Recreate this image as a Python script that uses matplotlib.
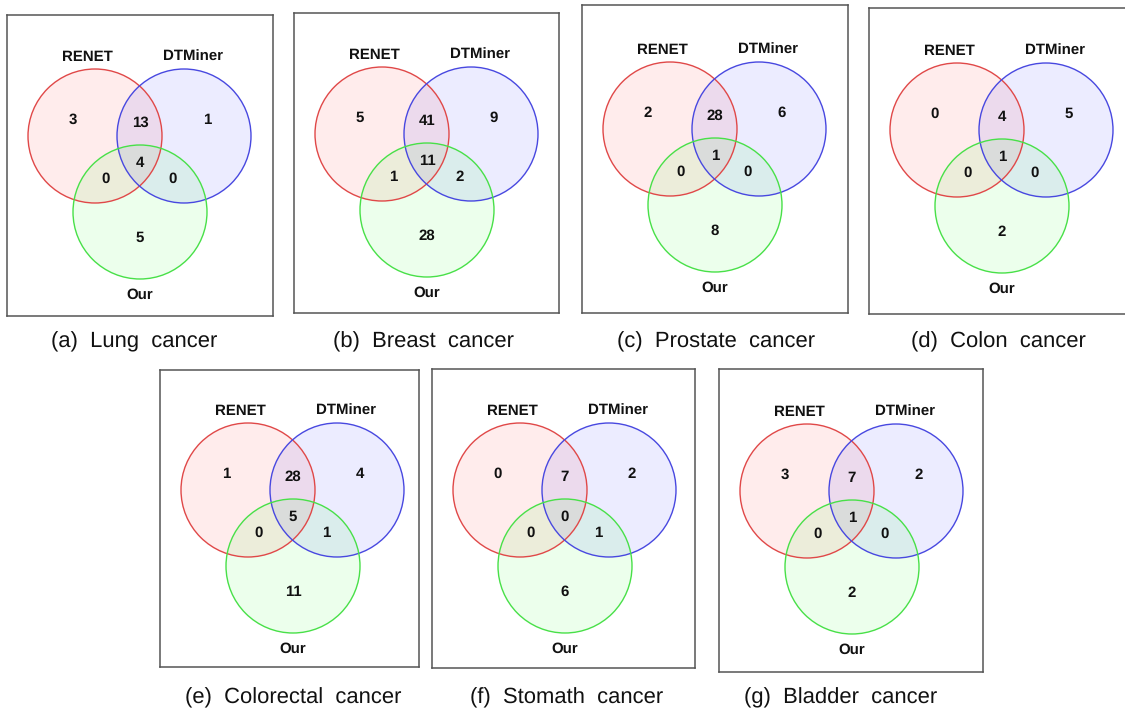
import matplotlib
matplotlib.use("Agg")
import matplotlib.pyplot as plt
from matplotlib.patches import Circle

plt.rcParams["text.hinting"] = "no_hinting"
plt.rcParams["text.hinting_factor"] = 1

# ---- data -------------------------------------------------------------
set_names = ["RENET", "DTMiner", "Our"]

captions = [
    "(a)  Lung  cancer",
    "(b)  Breast  cancer",
    "(c)  Prostate  cancer",
    "(d)  Colon  cancer",
    "(e)  Colorectal  cancer",
    "(f)  Stomath  cancer",
    "(g)  Bladder  cancer",
]

# region counts: RENET only, RENET&DTMiner, DTMiner only,
#                all three, RENET&Our, DTMiner&Our, Our only
renet_only    = [3, 5, 2, 0, 1, 0, 3]
renet_dtminer = [13, 41, 28, 4, 28, 7, 7]
dtminer_only  = [1, 9, 6, 5, 4, 2, 2]
all_three     = [4, 11, 1, 1, 5, 0, 1]
renet_our     = [0, 1, 0, 0, 0, 0, 0]
dtminer_our   = [0, 2, 0, 0, 1, 1, 0]
our_only      = [5, 28, 8, 2, 11, 6, 2]

# ---- layout (pixels) --------------------------------------------------
W, H = 1125, 712
DPI = 100

# panel frames: left, top, right, bottom
frames = [
    (7, 15, 273, 316),
    (294, 13, 559, 313),
    (582, 5, 848, 313),
    (869, 8, 1135, 314),
    (160, 370, 419, 667),
    (432, 369, 695, 668),
    (719, 369, 983, 672),
]
# vertical shift of the diagram inside each frame
shift_y = [0, 0, 3, 1, -1, 0, 1]
caption_x = [134, 423, 716, 998, 293, 567, 841]
caption_y = [342, 342, 342, 342, 698, 698, 698]

# Venn geometry relative to frame top-left
R = 67
centers = [(88, 121), (177, 121), (133, 197)]
name_pos = [(80, 42), (186, 42), (133, 280)]
region_pos = [(66, 105), (133, 108), (200, 105), (133, 148),
              (99, 164), (166, 164), (133, 223)]

edge_colors = ["#e04848", "#4848e0", "#48e048"]
fill_colors = ["#ff0000", "#0000ff", "#00ff00"]

fig = plt.figure(figsize=(W / DPI, H / DPI), dpi=DPI)
fig.patch.set_facecolor("white")

label_font = dict(family=["Liberation Sans", "DejaVu Sans"], fontweight="bold")
caption_font = ["Liberation Sans Narrow", "Liberation Sans", "DejaVu Sans"]

for i, (l, t, r, b) in enumerate(frames):
    w, h = r - l, b - t
    ax = fig.add_axes([l / W, 1 - b / H, w / W, h / H])
    ax.set_xlim(0, w)
    ax.set_ylim(h, 0)
    ax.set_xticks([])
    ax.set_yticks([])
    for sp in ax.spines.values():
        sp.set_color("#555555")
        sp.set_linewidth(1.1)
    dy = shift_y[i]

    for (cx, cy), fc in zip(centers, fill_colors):
        ax.add_patch(Circle((cx, cy + dy), R, facecolor=fc, alpha=0.075,
                            edgecolor="none", zorder=1))
    for (cx, cy), ec in zip(centers, edge_colors):
        ax.add_patch(Circle((cx, cy + dy), R, facecolor="none",
                            edgecolor=ec, linewidth=1.0, zorder=2))

    for name, (x, y) in zip(set_names, name_pos):
        ax.text(x, y + dy, name, ha="center", va="center", fontsize=10.5,
                color="#111111", **label_font)

    values = [renet_only[i], renet_dtminer[i], dtminer_only[i], all_three[i],
              renet_our[i], dtminer_our[i], our_only[i]]
    for v, (x, y) in zip(values, region_pos):
        ax.text(x, y + dy, str(v), ha="center", va="center", fontsize=10.5,
                color="#111111", zorder=3, **label_font)

    fig.text(caption_x[i] / W, 1 - caption_y[i] / H, captions[i],
             ha="center", va="center", fontsize=15.5, color="#111111",
             family=caption_font)

fig.savefig("out.png", dpi=DPI, facecolor="white")
